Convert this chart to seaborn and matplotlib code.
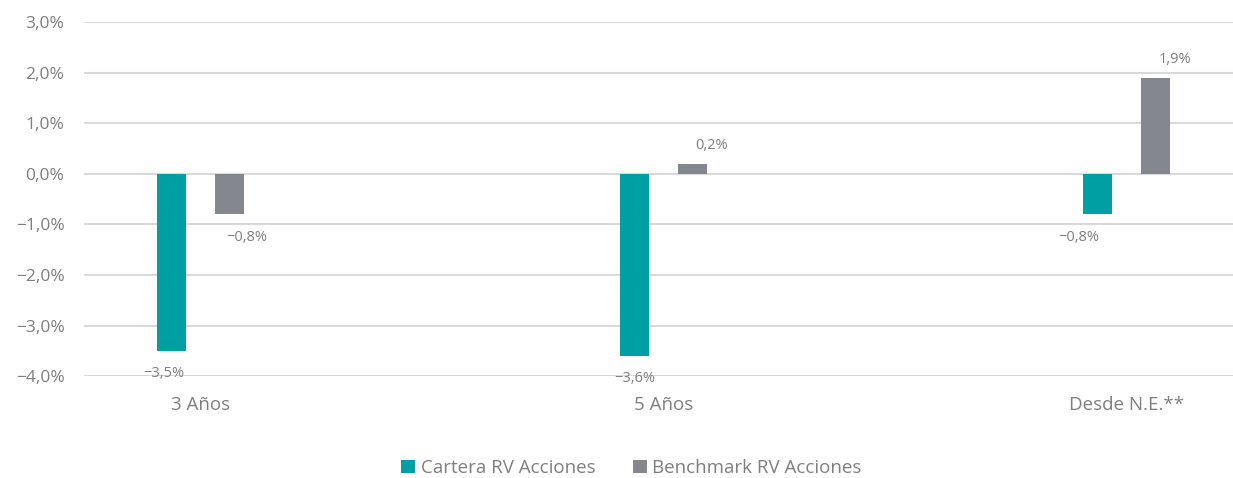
import pandas as pd
import matplotlib.pyplot as plt
import seaborn as sns

categorias = ["3 Años", "5 Años", "Desde N.E.**"]
series = ["Cartera RV Acciones", "Benchmark RV Acciones"]
cartera = [-3.5, -3.6, -0.8]
benchmark = [-0.8, 0.2, 1.9]
y_ticks = [-4, -3, -2, -1, 0, 1, 2, 3]

colores = ["#009FA3", "#84878E"]
gris_texto = "#7F7F7F"


def fmt(v):
    return f"{v:.1f}%".replace(".", ",").replace("-", "\u2212")


df = pd.DataFrame({
    "categoria": categorias * 2,
    "serie": [series[0]] * 3 + [series[1]] * 3,
    "valor": cartera + benchmark,
})

sns.set_style("white")
plt.rcParams["font.family"] = ["Open Sans", "DejaVu Sans"]

fig = plt.figure(figsize=(12.33, 4.78), dpi=100)
ax = fig.add_axes([0.068, 0.213, 0.932, 0.741])

sns.barplot(data=df, x="categoria", y="valor", hue="serie", palette=colores,
            width=0.25, gap=0.5, linewidth=0, saturation=1, ax=ax)

ax.set_ylim(-4, 3)
ax.set_xlim(-0.2515, 2.229)
ax.set_yticks(y_ticks)
ax.set_yticklabels([fmt(v) for v in y_ticks])
ax.yaxis.grid(True, color="#D9D9D9", linewidth=1.5)
ax.set_axisbelow(True)
for s in ax.spines.values():
    s.set_visible(False)
ax.tick_params(axis="y", length=0, pad=14, labelsize=12.5, labelcolor=gris_texto)
ax.tick_params(axis="x", length=0, pad=14, labelsize=13.5, labelcolor=gris_texto)
ax.set_xlabel("")
ax.set_ylabel("")

# etiquetas de datos (desplazadas como en el original)
desplazamientos = [[-8, 0, -19], [17, 19, 19]]
for cont, dx_list in zip(ax.containers, desplazamientos):
    for barra, dx in zip(cont, dx_list):
        v = barra.get_height()
        x = barra.get_x() + barra.get_width() / 2
        dy = -23 if v < 0 else 18
        ax.annotate(fmt(v), (x, v),
                    xytext=(dx * 0.72, dy * 0.72), textcoords="offset points",
                    ha="center", va="center", fontsize=10.5, color=gris_texto)

ax.legend_.remove()
handles, labels = ax.get_legend_handles_labels()
fig.legend(handles, labels, loc="center", bbox_to_anchor=(0.512, 0.021),
           ncol=2, frameon=False, fontsize=13.5, labelcolor=gris_texto,
           handlelength=0.75, handleheight=0.75, handletextpad=0.3,
           columnspacing=2.0)

fig.savefig("out.png", dpi=100)
